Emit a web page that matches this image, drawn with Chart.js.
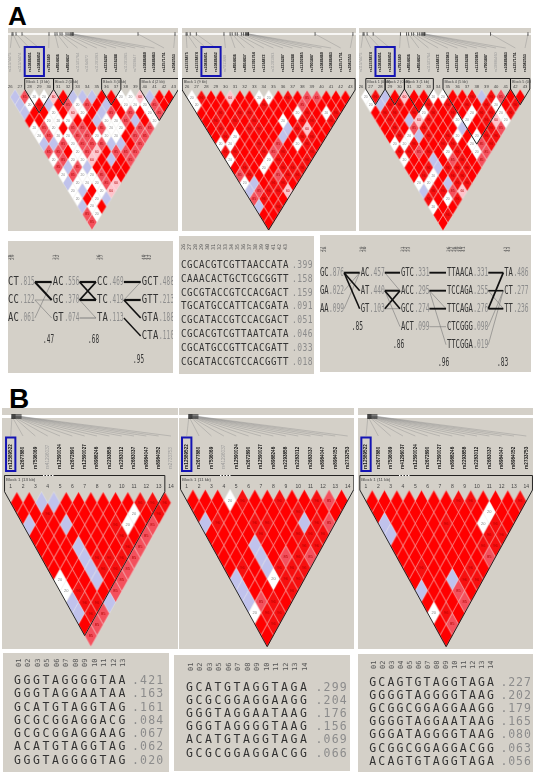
<!DOCTYPE html>
<html>
<head>
<meta charset="utf-8">
<title>LD plots and haplotypes</title>
<script src="https://cdn.jsdelivr.net/npm/chart.js@4"></script>
<style>
  body { margin: 0; background: #fff; }
  #page { position: relative; width: 537px; height: 774px; overflow: hidden; }
  #page canvas { position: absolute; }
  .head { position: absolute; font: bold 26px "Liberation Sans", sans-serif; color: #000; line-height: 1; }
</style>
</head>
<body>
<div id="page">
  <div class="head" style="left:8px;top:3px">A</div>
  <div class="head" style="left:9px;top:385px;font-size:28px">B</div>
</div>
<script>
// --- LD cells, one string per distance row. R red, D dark red, M medium, P pink, W white, B lavender ---
const ldA1 = ["BMWWPRBBBRRWWPBRR","BWDBRMWMRBRWWWMR","BRRWRPWRBMRMRWM","RRWWWRRBWWMBRW","WMWRMMRMWWRMM","WMWWMMWWWRMM","BBMWMMMBBRM","MMRWMPRMMM","WMWWPRBRM","MBMBRRRR","WMWWMRR","BWWWMP","WBRWP","WRWB","BWR","MW","M"];
const ldA2 = ["WDRRPRRWWRDRMMRRR","WRRRRRRDRRRMRRRR","RRDRDDRRRRWDRWD","RDRDRDRRWRDDRD","RDRRDDRRBDPRR","RDWRRRRBRDDR","WWRRDRMRWDR","DDRRDMDRRD","WRRRWDRRD","RDRWRDDD","MDRRMDD","WBRDDR","BMDDP","MDRR","BRD","RR","R"];
const ldA3 = ["WDBRPRRWWRRDBDMRR","WBDDRRDRDRDRDWRD","RDDRDWDRDRWDDWD","RDRBPDRRWWRDPW","RDRMDRRRBRRDM","RDWBDRDWRWDD","WWDRRDDRWMD","DDMDRWDRWM","WRRBRMDRM","RRDBDDDR","RDWRDDR","WWRBDD","BDDMP","DRWD","WRR","RD","R"];
const ldB1 = ["RRBBRRRRRRDDD","RRDRRRRRRWRD","BRRBRRRDWRM","RRRRRRRDRM","RRRBRRRDM","RRRBDDDM","RRRBDDM","WRRBRM","WDRRM","BDDB","BDM","RM","M"];
const ldB2 = ["RRRWDRRDRRDMR","RRRRRRRRDRRR","BDRRDDRRBDM","RRRRDRRDDD","RRRBRRRDD","RRRBRMDM","RDRBDDD","BRRWDD","BRRRD","BMDR","WDD","RD","R"];
const ldB3 = ["RRRRRRRDDRRRD","RRRRRRRRRWRR","BRRRRDRRWDR","BRRRRRRRDD","RRRRRRRDD","RRRRRRRM","RDRRRDR","RRRBDD","BRRMR","RRRM","WDR","RM","R"];

const markersA = ["26","27","28","29","30","31","32","33","34","35","36","37","38","39","40","41","42","43"];
const markersB = ["1","2","3","4","5","6","7","8","9","10","11","12","13","14"];
const rsA = ["rs11574475","rs11574474","rs10886451","rs10886452","rs7911680","rs4934436","rs4934437","rs11591764","rs1164872","rs11201983","rs2236287","rs2236288","rs11201985","rs7903847","rs10886460","rs10886463","rs12571751","rs2042553"];
const rsB = ["rs12589522","rs2677880","rs7536069","rs41296037","rs12590024","rs2672890","rs12590027","rs8988246","rs2293858","rs2283012","rs2683037","rs8984047","rs8984052","rs2733753"];
const snpKbA = [4,5,8,14,41,47,49,52,54,58,60,62,63,64,65,65,130,167];
const snpKbB = [10,10,11,11,12,12,13,13,14,15,16,17,18,19];
const blocksA1 = [[2,4,"Block 1 (3 kb)"],[5,6,"Block 2 (0 kb)"],[10,11,"Block 3 (0 kb)"],[14,17,"Block 4 (2 kb)"]];
const blocksA2 = [[0,17,"Block 1 (9 kb)"]];
const blocksA3 = [[1,2,"Block 1 (0 kb)"],[3,4,"Block 2 (0 kb)"],[5,7,"Block 3 (1 kb)"],[9,15,"Block 4 (5 kb)"],[16,17,"Block 5 (0 kb)"]];
const blocksB1 = [[0,12,"Block 1 (13 kb)"]];
const blocksB2 = [[0,13,"Block 1 (11 kb)"]];
const blocksB3 = [[0,13,"Block 1 (11 kb)"]];
const dimA1 = [0,1,7,8,9,12,13], dimA2 = [4,9], dimA3 = [0,7,14], dimB1 = [3,13], dimB2 = [3], dimB3 = [];

// D' shown inside a cell, by kind (too small to read cell by cell)
const cellLabels = { D: "96", M: "85", P: "60", W: "20" };

// --- Haplotype tables ---
const hapsA1 = [["CT","CC","AC"],["AC","GC","GT"],["CC","TC","TA"],["GCT","GTT","GTA","CTA"]];
const freqsA1 = [[.815,.122,.061],[.556,.370,.074],[.469,.419,.113],[.488,.213,.188,.110]];
const headA1 = [["28","29"],["31","32"],["36","37"],["40","41","42"]];
const linksA1 = [[0,0,0,2.2],[0,0,1,2],[0,1,1,.6],[0,1,2,.6],[0,2,0,.6],
                 [1,0,0,2.2],[1,0,1,1.8],[1,1,0,1.8],[1,1,1,2.2],[1,1,2,.6],[1,2,2,.9],
                 [2,0,0,2.2],[2,1,0,.6],[2,1,1,2.2],[2,1,2,1.7],[2,2,3,1.4]];
const scoresA1 = [.47,.68,.95];

const hapsA2 = [["CGCACGTCGTTAACCATA","CAAACACTGCTCGCGGTT","CGCGTACCGTCCACGACT","TGCATGCCATTCACGATA","CGCATACCGTCCACGACT","CGCACGTCGTTAATCATA","CGCATGCCGTTCACGATT","CGCATACCGTCCACGGTT"]];
const freqsA2 = [[.399,.158,.159,.091,.051,.046,.033,.018]];
const headA2 = [markersA];

const hapsA3 = [["GC","GA","AA"],["AC","AT","GT"],["GTC","ACC","GCC","ACT"],["TTAACA","TCCAGA","TTCAGA","CTCGGG","TTCGGA"],["TA","CT","TT"]];
const freqsA3 = [[.876,.022,.099],[.457,.440,.103],[.331,.295,.274,.099],[.331,.255,.276,.098,.019],[.486,.277,.236]];
const headA3 = [["27","28"],["29","30"],["31","32","33"],["36","37","38","39","40","41"],["42","43"]];
const linksA3 = [[0,0,0,2],[0,0,1,1.6],[0,0,2,1.6],[0,1,0,.6],[0,2,0,.6],
                 [1,0,0,2],[1,0,1,.6],[1,1,1,2],[1,1,2,1.7],[1,1,3,.6],[1,2,1,1.7],[1,2,2,.6],
                 [2,0,0,1.9],[2,1,1,1.9],[2,2,2,1.9],[2,1,2,.6],[2,1,4,.6],[2,3,3,.6],
                 [3,0,0,1.9],[3,1,1,1.6],[3,2,2,1.9],[3,2,0,1.7],[3,1,2,.6],[3,3,1,.6],[3,4,1,.6]];
const scoresA3 = [.85,.86,.96,.83];

const hapsB1 = [["GGGTAGGGGTAA","GGGTAGGAATAA","GCATGTAGGTAG","GCGCGGAGGACG","GCGCGGAGGAAG","ACATGTAGGTAG","GGGTAGGGGTAG"]];
const freqsB1 = [[.421,.163,.161,.084,.067,.062,.020]];
const headB1 = [["01","02","03","05","06","07","08","09","10","11","12","13"]];
const hapsB2 = [["GCATGTAGGTAGA","GCGCGGAGGAAGG","GGGTAGGAATAAG","GGGTAGGGGTAAG","ACATGTAGGTAGA","GCGCGGAGGACGG"]];
const freqsB2 = [[.299,.204,.176,.156,.069,.066]];
const headB2 = [["01","02","03","05","06","07","08","09","10","11","12","13","14"]];
const hapsB3 = [["GCAGTGTAGGTAGA","GGGGTAGGGGTAAG","GCGGCGGAGGAAGG","GGGGTAGGAATAAG","GGGATAGGGGTAAG","GCGGCGGAGGACGG","ACAGTGTAGGTAGA"]];
const freqsB3 = [[.227,.202,.179,.165,.080,.063,.056]];
const headB3 = [["01","02","03","04","05","06","07","08","09","10","11","12","13","14"]];

// --- Styles ---
const panelGrey = "#d4d0c8";
const cellColors = { R: "#ff0000", D: "#f70f0f", M: "#f4505c", P: "#ffc4cc", W: "#ffffff", B: "#c0c2ec" };
const monoFont = '"DejaVu Sans Mono", monospace';

function makeCanvas(x, y, w, h) {
  const c = document.createElement("canvas");
  c.width = w; c.height = h;
  c.style.cssText = `left:${x}px;top:${y}px;width:${w}px;height:${h}px;background:${panelGrey}`;
  document.getElementById("page").appendChild(c);
  return c;
}

// Diamond sprite for one cell kind
function diamond(color, w, h) {
  const c = document.createElement("canvas");
  c.width = Math.ceil(w) + 2; c.height = Math.ceil(h) + 2;
  const g = c.getContext("2d"), cx = c.width / 2, cy = c.height / 2;
  g.beginPath();
  g.moveTo(cx - w / 2, cy); g.lineTo(cx, cy - h / 2); g.lineTo(cx + w / 2, cy); g.lineTo(cx, cy + h / 2);
  g.closePath();
  g.fillStyle = color; g.fill();
  g.strokeStyle = "rgba(255,255,255,0.5)"; g.lineWidth = 0.5; g.stroke();
  return c;
}

// Text with a fixed pitch per character, squeezed by sx
function spaced(ctx, str, x, y, size, pitch, sx, color, family) {
  ctx.save();
  ctx.translate(x, y);
  ctx.scale(sx, 1);
  ctx.font = `${size}px ${family || monoFont}`;
  ctx.letterSpacing = (pitch / sx - 0.602 * size).toFixed(2) + "px";
  ctx.fillStyle = color;
  ctx.textBaseline = "middle";
  ctx.textAlign = "left";
  ctx.fillText(str, 0, 0);
  ctx.restore();
}

// --- LD triangle ---
function ldChart(g, s, rows, markers, rs, kb, blocks, dim, boxed) {
  const W = g.right - g.left, H = g.bottom - g.top, n = markers.length;
  const sp = (g.x1 - g.x0) / (n - 1), uy = (g.apex - g.triTop) / n;
  const sprites = {};
  Object.keys(cellColors).forEach(k => { sprites[k] = diamond(cellColors[k], sp, uy * 2); });

  const cells = [];
  rows.forEach((row, d) => {
    [...row].forEach((code, i) => cells.push({ x: i + (d + 1) / 2, y: d + 1, code }));
  });

  const decor = {
    id: "ldDecor",
    afterDatasetsDraw(chart) {
      const ctx = chart.ctx, X = chart.scales.x, Y = chart.scales.y;
      const py = v => v - g.top;
      ctx.save();

      // position bar
      ctx.fillStyle = "#fff";
      ctx.fillRect(0, py(s.barY - s.barH / 2), W, s.barH);
      kb.forEach((k, i) => {
        const tx = k / s.kbSpan * W, lx = X.getPixelForValue(i);
        ctx.strokeStyle = "#8a8a8a"; ctx.lineWidth = 0.4;
        ctx.beginPath(); ctx.moveTo(tx, py(s.barY)); ctx.lineTo(lx, py(s.labelTop - 1)); ctx.stroke();
        ctx.strokeStyle = "#222"; ctx.lineWidth = 0.7;
        ctx.beginPath(); ctx.moveTo(tx, py(s.barY - s.barH / 2 - 1)); ctx.lineTo(tx, py(s.barY + s.barH / 2 + 1)); ctx.stroke();
      });

      // rs names
      rs.forEach((name, i) => {
        ctx.save();
        ctx.translate(X.getPixelForValue(i), py(s.labelBottom));
        ctx.rotate(-Math.PI / 2);
        ctx.font = `${dim.includes(i) ? "" : "bold "}${s.rsSize}px "Liberation Sans", sans-serif`;
        ctx.fillStyle = dim.includes(i) ? "#999" : "#111";
        ctx.textBaseline = "middle";
        ctx.fillText(name, 0, 0);
        ctx.restore();
      });

      // selected marker box
      ctx.strokeStyle = "#1414b4"; ctx.lineWidth = 2;
      const bx0 = X.getPixelForValue(boxed[0] - 0.5) + (boxed[0] === 0 ? 1.5 : 0);
      const bx1 = X.getPixelForValue(boxed[1] + 0.5) - (boxed[0] === 0 ? 1.5 : 0);
      ctx.strokeRect(bx0, py(s.boxTop), bx1 - bx0, s.boxBottom - s.boxTop);

      // marker numbers
      ctx.font = `${s.numSize}px "Liberation Sans", sans-serif`;
      ctx.fillStyle = "#444"; ctx.textAlign = "center"; ctx.textBaseline = "middle";
      markers.forEach((m, i) => ctx.fillText(m, X.getPixelForValue(i), py(s.numY)));

      // value inside the cells
      ctx.font = `${s.cellSize}px "Liberation Sans", sans-serif`;
      cells.forEach(c => {
        const t = cellLabels[c.code];
        if (!t) return;
        ctx.fillStyle = c.code === "W" ? "#888" : "#b00000";
        ctx.fillText(t, X.getPixelForValue(c.x), Y.getPixelForValue(c.y));
      });

      // block outlines
      ctx.strokeStyle = "#111"; ctx.lineWidth = 0.9;
      blocks.forEach(([a, b, name]) => {
        const top = py(s.outlineY);
        ctx.beginPath();
        ctx.moveTo(X.getPixelForValue(a - 0.5), Y.getPixelForValue(0));
        ctx.lineTo(X.getPixelForValue(a - 0.5), top);
        ctx.lineTo(X.getPixelForValue(b + 0.5), top);
        ctx.lineTo(X.getPixelForValue(b + 0.5), Y.getPixelForValue(0));
        ctx.lineTo(X.getPixelForValue((a + b) / 2), Y.getPixelForValue(b - a + 1));
        ctx.closePath();
        ctx.stroke();
        ctx.font = `${s.blockSize}px "Liberation Sans", sans-serif`;
        ctx.fillStyle = "#444"; ctx.textAlign = "left";
        ctx.fillText(name, X.getPixelForValue(a - 0.5) + 1.5, top + s.blockSize);
      });

      // dotted stretch of the outline
      if (s.dotFrom) {
        ctx.strokeStyle = "#fff"; ctx.lineWidth = 1; ctx.setLineDash([1.5, 1.5]);
        ctx.beginPath(); ctx.moveTo(s.dotFrom, py(s.outlineY)); ctx.lineTo(s.dotTo, py(s.outlineY)); ctx.stroke();
        ctx.setLineDash([]);
      }
      ctx.restore();
    }
  };

  new Chart(makeCanvas(g.left, g.top, W, H), {
    type: "scatter",
    data: { datasets: [{
      data: cells,
      pointStyle: cells.map(c => sprites[c.code]),
      pointRadius: 5,
      clip: false
    }] },
    options: {
      responsive: false, animation: false, events: [],
      layout: { padding: 0, autoPadding: false },
      plugins: { legend: { display: false }, tooltip: { enabled: false } },
      scales: {
        x: { type: "linear", display: false, min: (g.left - g.x0) / sp, max: (g.right - g.x0) / sp },
        y: { type: "linear", display: false, reverse: true, min: (g.top - g.triTop) / uy, max: (g.bottom - g.triTop) / uy }
      }
    },
    plugins: [decor]
  });
}

// --- Haplotype panel ---
function hapChart(l, haps, freqs, heads, links, scores) {
  const W = l.right - l.left, H = l.bottom - l.top;
  const colEnd = c => l.colX[c] + haps[c][0].length * l.pitch + 4 * l.freqPitch + l.gap;
  const datasets = (links || []).map(([c, a, b, w]) => ({
    data: [{ x: colEnd(c) - l.left, y: a }, { x: l.colX[c + 1] - l.left - 1, y: b }],
    showLine: true, pointRadius: 0, borderWidth: w,
    borderColor: w > 1.2 ? "#111" : "#777", clip: false
  }));
  const decor = {
    id: "hapText",
    afterDatasetsDraw(chart) {
      const ctx = chart.ctx, Y = chart.scales.y;
      haps.forEach((col, c) => {
        const x = l.colX[c] - l.left;
        col.forEach((h, r) => {
          const y = Y.getPixelForValue(r);
          spaced(ctx, h, x, y, l.size, l.pitch, l.sx, l.hapColor);
          const f = freqs[c][r].toFixed(3).slice(1);
          spaced(ctx, f, x + h.length * l.pitch + l.gap, y, l.size, l.freqPitch, l.freqSx, "#8c8c8c");
        });
        heads[c].forEach((m, k) => {
          ctx.save();
          ctx.translate(x + (k + 0.5) * (l.headPitch || l.pitch), l.headY - l.top);
          ctx.rotate(-Math.PI / 2);
          ctx.font = `${l.headSize}px ${monoFont}`;
          ctx.fillStyle = "#555"; ctx.textAlign = "left"; ctx.textBaseline = "middle";
          ctx.fillText(m, 0, 0);
          ctx.restore();
        });
      });
      (scores || []).forEach((v, i) => {
        spaced(ctx, v.toFixed(2).slice(1), l.scoreX[i] - l.left, l.scoreY[i] - l.top, l.size, l.freqPitch, l.freqSx, "#333");
      });
    }
  };
  new Chart(makeCanvas(l.left, l.top, W, H), {
    type: "scatter",
    data: { datasets: datasets.length ? datasets : [{ data: [], pointRadius: 0 }] },
    options: {
      responsive: false, animation: false, events: [],
      layout: { padding: 0, autoPadding: false },
      plugins: { legend: { display: false }, tooltip: { enabled: false } },
      scales: {
        x: { type: "linear", display: false, min: 0, max: W },
        y: { type: "linear", display: false, reverse: true, min: (l.top - l.row0) / l.rowH, max: (l.bottom - l.row0) / l.rowH }
      }
    },
    plugins: [decor]
  });
}

// --- Layout ---
const styleA = { barY: 34, barH: 1.6, kbSpan: 170, labelTop: 49, labelBottom: 72, rsSize: 3.7, boxTop: 47, boxBottom: 76, outlineY: 78.5, numY: 86.5, numSize: 4.2, cellSize: 3.4, blockSize: 3.8 };
const styleB = { barY: 416.5, barH: 3, kbSpan: 176, labelTop: 437, labelBottom: 469, rsSize: 4.6, boxTop: 437.5, boxBottom: 471, outlineY: 475.5, numY: 487, numSize: 5, cellSize: 4, blockSize: 4.4, dotFrom: 41, dotTo: 52 };

ldChart({ left: 8, top: 28, right: 178, bottom: 231, x0: 10.3, x1: 173.7, triTop: 89.3, apex: 230 }, styleA, ldA1, markersA, rsA, snpKbA, blocksA1, dimA1, [2, 3]);
ldChart({ left: 182, top: 28, right: 356, bottom: 231, x0: 187, x1: 350.3, triTop: 90, apex: 230 }, styleA, ldA2, markersA, rsA, snpKbA, blocksA2, dimA2, [2, 3]);
ldChart({ left: 359, top: 28, right: 531, bottom: 231, x0: 361, x1: 525, triTop: 89, apex: 230.7 }, styleA, ldA3, markersA, rsA, snpKbA, blocksA3, dimA3, [2, 3]);
ldChart({ left: 2, top: 408, right: 178, bottom: 649, x0: 10.7, x1: 171, triTop: 491.7, apex: 646.7 }, styleB, ldB1, markersB, rsB, snpKbB, blocksB1, dimB1, [0, 0]);
ldChart({ left: 179, top: 408, right: 354, bottom: 649, x0: 186.7, x1: 347.7, triTop: 489.3, apex: 646.7 }, styleB, ldB2, markersB, rsB, snpKbB, blocksB2, dimB2, [0, 0]);
ldChart({ left: 358, top: 408, right: 533, bottom: 649, x0: 366, x1: 526.3, triTop: 490, apex: 646.7 }, styleB, ldB3, markersB, rsB, snpKbB, blocksB3, dimB3, [0, 0]);

hapChart({ left: 8, top: 241, right: 173, bottom: 373, row0: 282, rowH: 18, colX: [8, 52.7, 97, 141.7], size: 13, pitch: 5.6, sx: 0.68, gap: 0.5, freqPitch: 3.8, freqSx: 0.46, hapColor: "#333", headY: 260, headSize: 4.5, headPitch: 3.4, scoreX: [43, 88, 133], scoreY: [340, 340, 360] }, hapsA1, freqsA1, headA1, linksA1, scoresA1);
hapChart({ left: 179, top: 236, right: 314, bottom: 374, row0: 265.3, rowH: 13.8, colX: [181], size: 10.5, pitch: 6, sx: 0.87, gap: 3, freqPitch: 5.25, freqSx: 0.76, hapColor: "#333", headY: 250, headSize: 5 }, hapsA2, freqsA2, headA2);
hapChart({ left: 320, top: 235, right: 531, bottom: 372, row0: 272.7, rowH: 18, colX: [320, 360.7, 401, 447, 504.3], size: 12, pitch: 4.3, sx: 0.6, gap: 0.5, freqPitch: 3.75, freqSx: 0.52, hapColor: "#333", headY: 252, headSize: 4.5, headPitch: 3, scoreX: [351.7, 393, 438, 497], scoreY: [327, 345, 363, 363] }, hapsA3, freqsA3, headA3, linksA3, scoresA3);
hapChart({ left: 3, top: 653, right: 169, bottom: 772, row0: 681, rowH: 13.3, colX: [14], size: 11.5, pitch: 9.5, sx: 1, gap: 4, freqPitch: 8.1, freqSx: 1, hapColor: "#333", headY: 667, headSize: 7 }, hapsB1, freqsB1, headB1);
hapChart({ left: 174, top: 655, right: 350, bottom: 771, row0: 687.7, rowH: 13.2, colX: [186], size: 11.5, pitch: 9.5, sx: 1, gap: 6, freqPitch: 8.1, freqSx: 1, hapColor: "#333", headY: 671, headSize: 7 }, hapsB2, freqsB2, headB2);
hapChart({ left: 358, top: 654, right: 533, bottom: 772, row0: 682.7, rowH: 13.2, colX: [369.3], size: 11.5, pitch: 9.05, sx: 1, gap: 4.5, freqPitch: 7.8, freqSx: 1, hapColor: "#333", headY: 669, headSize: 7 }, hapsB3, freqsB3, headB3);
</script>
</body>
</html>
